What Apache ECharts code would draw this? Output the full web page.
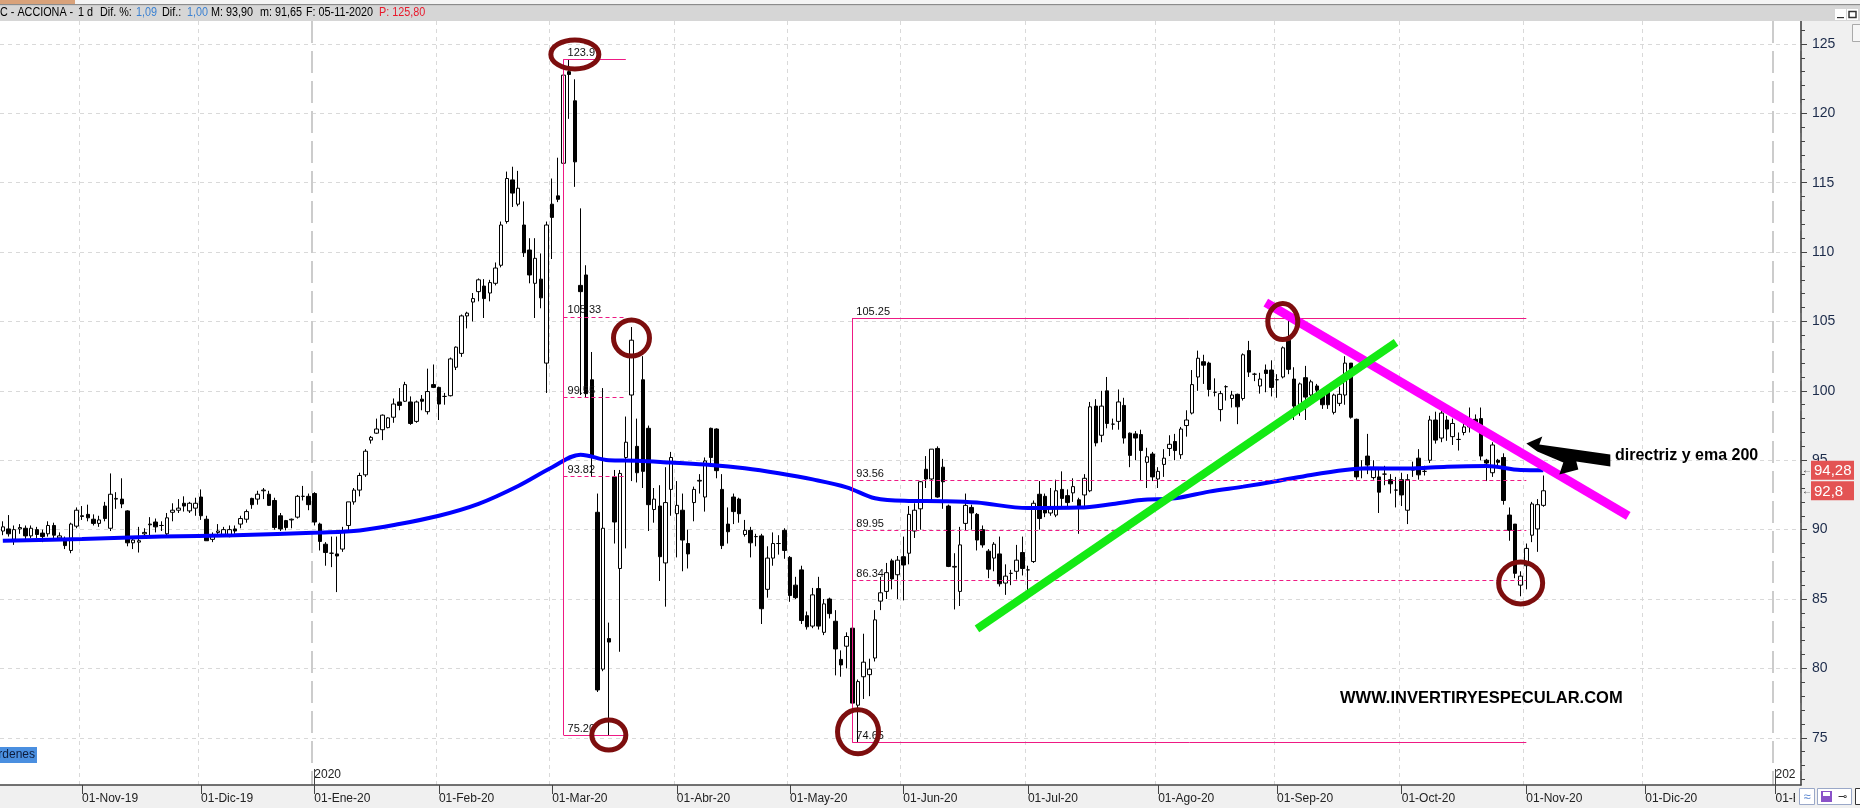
<!DOCTYPE html>
<html>
<head>
<meta charset="utf-8">
<script src="https://cdn.jsdelivr.net/npm/echarts@6/dist/echarts.min.js"></script>
<style>
  html, body { margin: 0; padding: 0; background: #f0f0f0; }
  #main { width: 1860px; height: 808px; }
</style>
</head>
<body>
<div id="main"></div>
<script>
// ACCIONA daily candles, Oct-2019 .. 05-11-2020
const firstDay = '2019-10-14';
const lastTradeDay = '2020-11-05';
const slotCount = 318; // trading days + empty future slots up to Jan-21
const holidays = ['2019-12-25', '2019-12-26', '2020-01-01', '2020-04-10', '2020-04-13', '2020-05-01'];
const monthNames = ['Ene', 'Feb', 'Mar', 'Abr', 'May', 'Jun', 'Jul', 'Ago', 'Sep', 'Oct', 'Nov', 'Dic'];

// [open, close, low, high]
const ohlc = [
  [89.9,90.2,89.6,90.6],[90.05,89.7,89.5,91.05],[89.3,90.0,88.9,90.3],[90.05,90.15,89.7,90.4],[90.1,89.55,89.3,90.3],
  [89.55,90.1,89.4,90.3],[90.0,89.65,89.4,90.2],[89.75,89.5,89.1,90.0],[89.7,90.3,89.5,90.6],[90.3,89.6,89.4,90.5],
  [89.4,89.55,89.2,89.8],[89.35,88.85,88.6,89.5],[88.5,90.4,88.3,90.5],[90.25,91.4,90.1,91.6],[91.0,90.95,90.7,91.7],
  [91.1,90.85,90.6,91.8],[90.75,90.45,90.3,91.1],[90.45,90.7,90.2,91.0],[91.7,90.8,90.6,92.0],[90.1,92.55,89.9,94.05],
  [92.2,92.25,91.5,92.7],[92.2,91.85,91.55,93.7],[91.35,89.05,88.8,91.4],[89.05,89.25,88.6,89.5],[89.1,89.2,88.35,90.2],
  [89.7,89.8,89.4,90.1],[90.35,90.4,89.5,90.9],[90.55,90.2,89.8,90.8],[90.3,90.3,89.9,90.6],[89.7,90.85,89.5,91.2],
  [91.25,91.4,90.6,91.9],[91.4,91.55,91.2,92.2],[91.9,91.7,91.3,92.4],[91.35,91.9,91.2,92.0],[91.55,91.9,91.0,92.3],
  [92.35,91.0,90.7,92.9],[90.75,89.2,89.2,91.0],[89.3,89.5,89.1,89.8],[89.8,89.9,89.5,90.4],[89.55,90.0,89.5,90.2],
  [89.5,90.0,89.45,90.3],[90.05,89.9,89.7,90.3],[90.4,90.8,90.1,91.0],[90.75,91.3,90.5,91.45],[92.25,91.8,91.5,92.3],
  [92.2,92.55,91.8,92.8],[92.8,92.85,92.2,93.0],[92.55,91.75,91.7,92.8],[92.1,90.15,90.0,92.3],[91.0,90.05,89.9,91.2],
  [90.65,90.15,89.95,90.7],[90.7,90.75,90.1,90.8],[90.9,92.4,90.8,92.5],[92.4,92.4,92.1,93.15],[92.4,91.8,91.4,92.6],
  [92.6,90.55,90.3,92.7],[90.4,89.15,88.5,90.5],[88.95,88.35,87.4,89.1],[88.3,88.3,87.3,89.5],[88.25,88.1,85.5,89.5],
  [88.6,89.85,88.4,90.2],[90.3,92.0,89.9,92.0],[92.0,92.85,91.8,93.0],[92.85,93.9,92.4,94.1],[93.95,95.65,93.8,95.8],
  [96.45,96.65,96.2,96.75],[96.95,97.25,96.9,98.0],[97.2,98.25,96.45,98.3],[97.35,98.05,97.3,98.1],[98.1,99.05,97.7,99.45],
  [99.2,98.95,98.6,100.2],[99.25,100.45,99.2,100.65],[99.2,97.65,97.55,99.6],[97.8,99.2,97.7,99.3],[99.4,99.25,98.6,99.7],
  [98.5,99.95,98.3,101.6],[100.45,100.25,100.2,101.9],[100.25,99.05,97.9,100.3],[99.6,99.6,99.0,99.85],[99.65,102.3,99.6,102.4],
  [101.7,103.15,101.5,103.2],[102.7,105.4,102.45,105.5],[105.4,105.6,104.5,105.7],[106.4,106.65,105.0,107.05],[107.15,108.0,106.45,108.1],
  [107.55,106.65,105.25,108.05],[107.05,107.8,106.45,108.0],[107.75,108.85,107.6,109.25],[109.05,111.95,108.9,112.2],[112.2,115.3,112.05,115.8],
  [115.2,114.25,113.25,116.15],[113.45,114.6,113.3,115.85],[111.95,109.95,109.65,113.65],[110.15,108.35,107.75,111.0],[107.75,109.55,105.25,111.0],
  [108.05,106.7,105.95,109.9],[102.0,111.95,99.85,112.2],[113.45,112.5,109.5,115.3],[114.05,113.8,113.6,116.8],[116.4,122.75,116.3,123.0],
  [123.0,122.8,119.6,123.9],[120.9,116.5,114.7,122.45],[107.6,107.15,99.7,113.15],[108.35,99.8,99.5,109.05],[100.8,95.25,93.8,102.8],
  [91.25,78.45,78.3,92.6],[79.95,90.1,79.8,100.2],[82.15,81.9,75.2,83.3],[93.8,90.55,89.0,94.3],[87.2,94.05,81.2,94.3],
  [95.2,96.3,88.65,98.15],[99.7,103.65,93.5,104.6],[96.0,94.1,93.4,98.0],[100.8,94.2,93.0,102.5],[97.3,91.8,89.9,97.5],
  [91.45,92.2,90.5,93.0],[91.7,88.05,86.3,93.2],[87.6,91.95,84.45,94.5],[92.9,95.2,91.0,95.6],[91.15,91.75,88.0,93.5],
  [91.4,89.25,87.0,92.6],[89.0,88.25,87.2,90.0],[91.95,92.9,90.6,93.1],[93.5,93.55,92.6,94.0],[92.35,94.95,91.3,95.2],
  [97.3,95.2,94.8,97.35],[97.25,94.25,93.7,97.3],[92.9,88.85,88.6,94.0],[90.4,89.85,89.0,91.6],[92.35,91.3,90.4,92.6],
  [92.2,91.15,90.5,92.3],[89.65,89.95,89.5,90.7],[89.95,89.05,88.0,90.2],[89.5,89.5,88.8,89.7],[89.55,84.3,83.2,89.7],
  [85.7,87.95,85.1,88.8],[87.95,89.0,87.4,89.8],[89.0,89.0,88.2,89.6],[89.95,88.5,87.9,90.1],[88.0,85.25,84.8,88.1],
  [86.0,85.1,85.0,86.6],[87.1,83.45,83.2,87.4],[83.8,83.0,82.8,84.1],[83.05,85.3,82.9,85.8],[85.75,83.05,82.8,86.6],
  [82.6,84.65,82.4,85.0],[85.0,83.95,83.6,85.1],[83.4,81.4,79.5,84.2],[80.65,80.25,79.4,81.3],[81.6,82.3,80.0,82.6],
  [82.9,77.5,77.0,83.0],[77.35,79.05,74.65,79.2],[79.4,80.45,77.8,82.5],[79.55,79.95,78.0,80.7],[80.75,83.5,80.5,84.2],
  [84.85,85.45,84.2,86.6],[85.55,86.9,85.0,87.6],[87.75,86.45,85.7,87.9],[86.75,87.8,85.0,88.1],[88.05,87.45,84.9,89.5],
  [88.3,91.1,87.5,91.7],[89.9,91.4,89.4,91.9],[91.5,93.45,90.0,93.5],[94.35,93.65,93.0,95.3],[93.65,95.8,92.0,95.8],
  [95.85,92.35,92.3,96.0],[94.5,93.45,91.5,95.1],[91.7,87.35,87.3,91.8],[87.3,87.35,84.25,88.3],[85.55,88.9,84.5,90.2],
  [90.45,91.75,89.9,92.6],[91.6,91.2,90.0,91.8],[91.1,89.25,88.5,91.2],[90.0,88.9,88.7,90.3],[88.45,87.15,86.5,88.6],
  [87.95,88.95,87.0,89.1],[88.25,86.1,85.9,89.5],[86.15,86.65,85.3,87.5],[86.85,86.85,86.0,87.1],[87.0,87.8,86.4,88.9],
  [88.35,87.2,86.7,89.5],[87.1,87.1,85.6,87.4],[87.7,91.9,87.6,92.1],[92.55,90.8,90.0,93.5],[92.4,91.2,90.9,92.6],
  [91.2,91.65,91.0,93.0],[91.05,92.8,90.9,93.6],[92.9,92.25,91.7,94.2],[92.45,91.95,91.7,92.9],[92.65,93.1,92.0,93.7],
  [92.15,91.65,89.7,92.3],[92.5,93.7,91.5,94.0],[92.8,98.85,92.7,99.2],[98.9,96.25,96.0,99.4],[96.8,98.9,96.3,100.0],
  [100.0,97.65,97.3,101.0],[97.6,97.6,97.2,98.0],[97.8,99.2,97.2,100.1],[98.95,96.6,96.2,99.5],[96.95,95.35,94.5,97.0],
  [96.9,96.6,95.0,97.1],[96.85,95.7,93.5,97.2],[94.85,95.25,93.0,95.9],[95.45,93.8,93.5,95.6],[93.65,94.2,93.0,94.5],
  [94.7,95.15,93.8,95.8],[95.85,96.15,95.3,96.8],[96.35,95.7,95.0,96.9],[95.4,97.25,95.1,97.4],[97.5,97.9,96.7,98.6],
  [98.4,100.45,98.3,101.5],[101.0,102.35,100.0,102.9],[102.1,101.85,100.5,102.6],[102.0,100.1,99.6,102.1],[99.9,99.9,99.6,100.9],
  [98.65,99.8,97.8,100.0],[100.3,100.3,99.3,100.4],[99.45,99.7,98.8,100.0],[99.75,98.85,97.6,99.8],[99.45,102.6,99.3,102.7],
  [102.9,101.35,101.0,103.6],[101.2,101.2,100.7,101.3],[100.35,100.85,99.8,101.3],[101.5,101.25,99.9,101.9],[101.5,100.25,99.6,102.2],
  [100.8,100.8,99.5,101.2],[101.0,103.1,100.9,103.2],[103.65,101.55,101.2,105.25],[100.85,98.9,97.9,101.7],[98.85,100.5,98.2,100.6],
  [100.95,99.55,97.9,101.8],[99.7,100.65,99.2,100.8],[100.35,100.05,99.5,100.5],[99.7,99.0,98.7,99.9],[100.0,99.0,98.7,100.2],
  [98.45,99.7,98.3,99.8],[99.1,99.75,98.9,100.3],[99.7,102.0,99.0,102.5],[102.0,98.1,98.0,102.0],[97.95,93.8,93.6,98.0],
  [94.4,94.4,93.7,95.0],[95.3,94.65,94.0,96.9],[93.75,94.4,93.6,95.0],[93.8,92.7,91.2,94.3],[94.0,94.0,93.2,94.6],
  [93.6,93.3,92.6,94.0],[92.85,92.85,91.6,93.8],[93.6,92.5,91.7,94.1],[91.4,93.6,90.4,94.0],[94.3,94.3,93.8,94.9],
  [95.15,93.95,93.6,95.8],[94.2,94.2,93.9,94.6],[95.0,97.9,94.8,98.2],[97.9,96.45,96.2,98.5],[96.6,98.4,96.3,98.6],
  [97.9,97.25,96.4,98.2],[96.7,97.65,96.1,98.0],[96.5,96.5,95.7,97.0],[97.0,97.4,96.8,98.0],[97.95,97.4,97.0,98.8],
  [97.95,97.7,97.3,98.3],[98.0,95.3,95.0,98.8],[95.0,94.8,93.5,95.1],[94.1,96.1,93.8,96.3],[95.0,94.85,94.5,95.1],
  [95.2,92.1,91.8,95.5],[91.05,89.95,89.2,91.6],[90.4,86.85,86.5,90.4],[86.0,86.65,85.2,87.0],[87.4,88.65,85.7,89.0],
  [89.6,91.85,89.1,92.0],[90.05,91.8,88.4,92.2],[91.75,92.8,91.65,93.9]
];

// EMA 200, sampled along the drawn curve: [candle index, value]
const ema200 = [
  [0,89.2],[14,89.33],[28,89.5],[41,89.6],[56,89.79],[63,89.94],[70,90.4],[77,91.0],[84,91.86],[91,93.15],
  [97,94.5],[102,95.4],[107,95.0],[112,94.97],[118,94.83],[125,94.66],[131,94.42],[137,94.06],[143,93.62],[149,93.05],
  [154,92.26],[160,92.07],[166,92.05],[172,91.95],[181,91.56],[190,91.59],[196,91.85],[201,92.14],[207,92.26],[213,92.74],
  [219,93.1],[225,93.5],[231,93.94],[237,94.3],[241,94.42],[248,94.4],[255,94.54],[262,94.59],[268,94.3],[272,94.28]
];

const priceTicks = [75, 80, 85, 90, 95, 100, 105, 110, 115, 120, 125];
const yMin = 71.6, yMax = 126.65;

// price tags on the scale: last EMA value and last close
const tagValues = [94.28, 92.8];
const tagTexts = ['94,28', '92,8'];

// Fibonacci retracements drawn on the chart
const fiboLeft = { from: 99, to: 110, top: 123.9, bottom: 75.2, levels: [105.33, 99.55, 93.82],
  labels: ['123.9', '105.33', '99.55', '93.82', '75.20'] };
const fiboRight = { from: 150, to: 269, top: 105.25, bottom: 74.65, levels: [93.56, 89.95, 86.34],
  labels: ['105.25', '93.56', '89.95', '86.34', '74.65'] };

// hand drawn lines: [[idx, price], [idx, price]]
const greenLine = [[172, 82.85], [246, 103.49]];
const magentaLine = [[223, 106.35], [287, 91.0]];

// circled points [idx, price]
const circleMarks = [[101, 124.24], [111, 103.81], [107, 75.21], [151, 75.43], [226, 104.99], [268, 86.16]];
const circleRadii = [[24, 14.5], [18, 18], [17, 15], [20.5, 22], [15, 18], [22, 21]];

// ---- build categories (trading days) ----
function pad(n) { return n < 10 ? '0' + n : '' + n; }
const dates = [];
(function () {
  const d = new Date(Date.UTC(+firstDay.slice(0, 4), +firstDay.slice(5, 7) - 1, +firstDay.slice(8, 10)));
  while (dates.length < slotCount) {
    const wd = d.getUTCDay();
    const s = d.getUTCFullYear() + '-' + pad(d.getUTCMonth() + 1) + '-' + pad(d.getUTCDate());
    const hol = s <= lastTradeDay && holidays.indexOf(s) >= 0;
    if (wd !== 0 && wd !== 6 && !hol) dates.push(s);
    d.setUTCDate(d.getUTCDate() + 1);
  }
})();

const monthLabel = {};
const yearLabel = {};
for (let i = 1; i < dates.length; i++) {
  if (dates[i].slice(5, 7) !== dates[i - 1].slice(5, 7)) {
    const m = +dates[i].slice(5, 7) - 1;
    monthLabel[i] = '01-' + monthNames[m] + '-' + dates[i].slice(2, 4);
    if (m === 0) yearLabel[i] = dates[i].slice(0, 4) === '2021' ? '202' : dates[i].slice(0, 4); // cut by price scale
  }
}

const FONT = '"Liberation Sans", Arial, sans-serif';
const PINK = '#ee1a84';

function fiboLines(f) {
  const solid = { color: PINK, width: 1, type: 'solid' };
  const dash = { color: PINK, width: 1, type: [4, 3] };
  const lab = (t) => ({ show: true, position: 'insideStartTop', formatter: t, color: '#111', fontSize: 11,
    fontFamily: FONT, distance: [4, 1] });
  const out = [];
  out.push([{ coord: [f.from, f.top], lineStyle: solid, label: lab(f.labels[0]) }, { coord: [f.to, f.top] }]);
  f.levels.forEach((v, k) => {
    out.push([{ coord: [f.from, v], lineStyle: dash, label: lab(f.labels[k + 1]) }, { coord: [f.to, v] }]);
  });
  out.push([{ coord: [f.from, f.bottom], lineStyle: solid, label: lab(f.labels[4]) }, { coord: [f.to, f.bottom] }]);
  out.push([{ coord: [f.from, f.top], lineStyle: solid, label: { show: false } }, { coord: [f.from, f.bottom] }]);
  return out;
}

function headText(x, text, color) {
  return { type: 'text', z: 101, x: x, y: 13, scaleX: 0.9,
    style: { text: text, font: '12px ' + FONT, fill: color || '#000', verticalAlign: 'middle' } };
}

const chart = echarts.init(document.getElementById('main'));

const option = {
  animation: false,
  backgroundColor: '#f0f0f0',
  grid: { left: -3, right: 59, top: 21, bottom: 23, show: true, backgroundColor: '#ffffff', borderWidth: 0 },
  xAxis: [{
    type: 'category', data: dates, boundaryGap: true,
    axisLine: { lineStyle: { color: '#444', width: 1.5 } },
    axisTick: { show: true, alignWithLabel: true, length: 9, interval: (i) => monthLabel[i] !== undefined,
      lineStyle: { color: '#444' } },
    axisLabel: { interval: (i) => monthLabel[i] !== undefined, formatter: (v, i) => monthLabel[i] || '',
      align: 'left', margin: 8, fontSize: 12, color: '#222', fontFamily: FONT },
    splitLine: { show: true, interval: (i) => monthLabel[i] !== undefined && yearLabel[i] === undefined,
      lineStyle: { color: '#d9d9d9', type: [4, 4] } }
  }, {
    type: 'category', data: dates, boundaryGap: true, position: 'bottom',
    axisLine: { show: false },
    axisTick: { show: true, inside: true, alignWithLabel: true, length: 16, interval: (i) => yearLabel[i] !== undefined,
      lineStyle: { color: '#444' } },
    axisLabel: { show: true, inside: true, interval: (i) => yearLabel[i] !== undefined,
      formatter: (v, i) => yearLabel[i] || '', align: 'left', margin: 4, fontSize: 12, color: '#222', fontFamily: FONT },
    splitLine: { show: true, interval: (i) => yearLabel[i] !== undefined,
      lineStyle: { color: '#cccccc', width: 2, type: [22, 8] } }
  }],
  yAxis: [{
    type: 'value', position: 'right', min: yMin, max: yMax,
    axisLine: { show: true, lineStyle: { color: '#444', width: 1.5 } },
    axisTick: { show: true, customValues: priceTicks, length: 6, lineStyle: { color: '#444' } },
    axisLabel: { customValues: priceTicks, margin: 11, fontSize: 14, color: '#1c2b4a', fontFamily: FONT },
    splitLine: { show: true, lineStyle: { color: '#d9d9d9', type: [4, 4] } }
  }, {
    type: 'value', position: 'right', min: yMin, max: yMax,
    axisLine: { show: false }, axisLabel: { show: false }, splitLine: { show: false },
    axisTick: { show: true, length: 4, lineStyle: { color: '#444' },
      customValues: Array.from({ length: 55 }, (_, k) => 72 + k).filter(v => v % 5 !== 0) }
  }, {
    type: 'value', position: 'right', min: yMin, max: yMax,
    axisLine: { show: false }, axisTick: { show: false }, splitLine: { show: false },
    axisLabel: {
      customValues: tagValues, margin: 1, hideOverlap: false,
      formatter: (v) => '{a|←}{b|' + tagTexts[tagValues.indexOf(v)] + '}',
      rich: {
        a: { color: '#333', fontSize: 10, width: 9, fontFamily: FONT },
        b: { backgroundColor: '#e35353', color: '#fff', fontSize: 15, fontFamily: FONT,
          padding: [3, 4, 1, 3], width: 36, lineHeight: 15 }
      }
    }
  }],
  series: [
    {
      name: 'fibo', type: 'line', data: [], z: 1,
      markLine: { symbol: ['none', 'none'], silent: true, data: fiboLines(fiboLeft).concat(fiboLines(fiboRight)) }
    },
    {
      name: 'ACCIONA', type: 'candlestick', data: ohlc, barWidth: 4, z: 2,
      itemStyle: { color: '#ffffff', color0: '#000000', borderColor: '#000000', borderColor0: '#000000', borderWidth: 1 }
    },
    {
      name: 'EMA 200', type: 'line', data: ema200, smooth: 0.35, symbol: 'none', z: 3,
      lineStyle: { color: '#0000ff', width: 4 }
    },
    {
      name: 'trend', type: 'line', data: [], z: 4,
      markLine: {
        symbol: ['none', 'none'], silent: true, label: { show: false },
        data: [
          [{ coord: magentaLine[0], lineStyle: { color: '#ff00ff', width: 9, type: 'solid', cap: 'butt' } }, { coord: magentaLine[1] }],
          [{ coord: greenLine[0], lineStyle: { color: '#14ea14', width: 8, type: 'solid', cap: 'butt' } }, { coord: greenLine[1] }]
        ]
      }
    },
    {
      name: 'circles', type: 'custom', z: 6, data: circleMarks,
      renderItem: (params, api) => {
        const p = api.coord([api.value(0), api.value(1)]);
        const r = circleRadii[params.dataIndex];
        return { type: 'ellipse', shape: { cx: p[0], cy: p[1], rx: r[0], ry: r[1] },
          style: { fill: 'none', stroke: '#7d0e0e', lineWidth: 5 } };
      }
    },
    {
      name: 'arrow', type: 'custom', z: 6, data: [[269, 96.2]],
      renderItem: (params, api) => {
        const p = api.coord([api.value(0), api.value(1)]);
        const pts = [[0, 0], [16, -7], [13, 1], [84, 11], [84, 23], [50, 18], [52, 26], [33, 31], [37, 19], [11, 8]];
        return { type: 'polygon', shape: { points: pts.map(q => [p[0] + q[0], p[1] + q[1]]) },
          style: { fill: '#000' } };
      }
    }
  ],
  graphic: [
    { type: 'rect', z: 100, shape: { x: 0, y: 0, width: 1860, height: 5 }, style: { fill: '#f4f4f4' } },
    { type: 'rect', z: 100, shape: { x: 0, y: 0, width: 75, height: 4 }, style: { fill: '#d9a27a' } },
    { type: 'rect', z: 100, shape: { x: 0, y: 4, width: 1860, height: 1.5 }, style: { fill: '#8c8c8c' } },
    { type: 'rect', z: 100, shape: { x: 0, y: 5.5, width: 1860, height: 15.5 }, style: { fill: '#d6d6d6' } },
    headText(0, 'C - ACCIONA -'),
    headText(78, '1 d'),
    headText(100, 'Dif. %:'),
    headText(136, '1,09', '#3c82d2'),
    headText(162, 'Dif.:'),
    headText(187, '1,00', '#3c82d2'),
    headText(211, 'M: 93,90'),
    headText(260, 'm: 91,65'),
    headText(306, 'F: 05-11-2020'),
    headText(379, 'P: 125,80', '#e8192c'),
    // window buttons
    { type: 'rect', z: 101, shape: { x: 1835, y: 9, width: 11, height: 11 }, style: { fill: '#fff' } },
    { type: 'rect', z: 101, shape: { x: 1847, y: 9, width: 11, height: 11 }, style: { fill: '#fff' } },
    { type: 'rect', z: 102, shape: { x: 1837, y: 17, width: 7, height: 1.2 }, style: { fill: '#333' } },
    { type: 'rect', z: 102, shape: { x: 1849, y: 11.5, width: 7, height: 6 }, style: { fill: 'none', stroke: '#333', lineWidth: 1.5 } },
    { type: 'rect', z: 101, shape: { x: 1852.5, y: 24.5, width: 10, height: 17 }, style: { fill: '#f7f7f7', stroke: '#aaa' } },
    // orders tab
    { type: 'rect', z: 101, shape: { x: 0, y: 747, width: 37, height: 16 }, style: { fill: '#4a8fe0' } },
    { type: 'text', z: 102, x: 35, y: 755, style: { text: 'Órdenes', font: '12px ' + FONT, fill: '#0d1c3c', align: 'right', verticalAlign: 'middle' } },
    // bottom-right tool icons
    { type: 'rect', z: 101, shape: { x: 1795, y: 786, width: 65, height: 22 }, style: { fill: '#f0f0f0' } },
    { type: 'rect', z: 102, shape: { x: 1799.5, y: 788.5, width: 15, height: 16 }, style: { fill: '#fff', stroke: '#9aa8c8' } },
    { type: 'text', z: 103, x: 1807, y: 797, style: { text: '≈', font: '13px ' + FONT, fill: '#5a86d0', align: 'center', verticalAlign: 'middle' } },
    { type: 'rect', z: 102, shape: { x: 1817.5, y: 788.5, width: 34, height: 16 }, style: { fill: '#fff', stroke: '#9aa8c8' } },
    { type: 'rect', z: 103, shape: { x: 1821, y: 791, width: 11, height: 11 }, style: { fill: '#8a52c8' } },
    { type: 'rect', z: 104, shape: { x: 1823, y: 792, width: 7, height: 4 }, style: { fill: '#fff' } },
    { type: 'text', z: 103, x: 1842, y: 797, style: { text: '⊸', font: '11px ' + FONT, fill: '#333', align: 'center', verticalAlign: 'middle' } },
    { type: 'rect', z: 102, shape: { x: 1855.5, y: 788.5, width: 6, height: 16 }, style: { fill: '#fff', stroke: '#333' } },
    // annotation texts
    { type: 'text', z: 110, x: 1615, y: 456, style: { text: 'directriz y ema 200', font: 'bold 16px ' + FONT, fill: '#000', verticalAlign: 'middle' } },
    { type: 'text', z: 110, x: 1340, y: 698, style: { text: 'WWW.INVERTIRYESPECULAR.COM', font: 'bold 16.5px ' + FONT, fill: '#000', verticalAlign: 'middle' } }
  ]
};

chart.setOption(option);
</script>
</body>
</html>
